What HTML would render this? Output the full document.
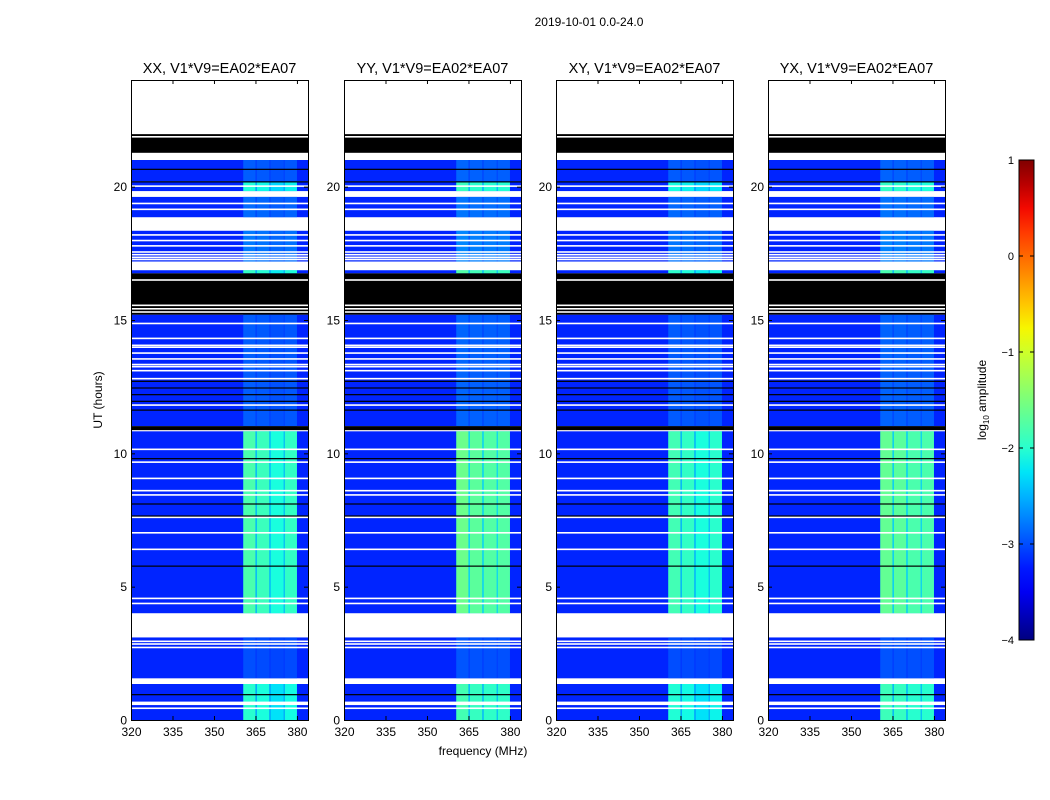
<!DOCTYPE html>
<html><head><meta charset="utf-8"><style>
body{margin:0;background:#fff;width:1050px;height:800px;overflow:hidden;font-family:"Liberation Sans",sans-serif}
svg{position:absolute;left:0;top:0}
</style></head><body>
<svg id="fig" width="1050" height="800" font-family="Liberation Sans, sans-serif"></svg>
<script>
// ---- data (hours / MHz / log10 amplitude) ----
const panelTitles=["XX, V1*V9=EA02*EA07","YY, V1*V9=EA02*EA07","XY, V1*V9=EA02*EA07","YX, V1*V9=EA02*EA07"];
const panelLefts=[131,344,556,768];
const freqTicks=[320,335,350,365,380];
const timeTicks=[0,5,10,15,20];
const cbTicks=[1,0,-1,-2,-3,-4];
const bandEdges=[[360.6,365.0],[365.5,370.0],[370.5,375.2],[375.6,380.0]];
const bandPeak=[[-1.8,-1.9,-2.1,-1.95],[-1.6,-1.7,-1.75,-1.75],[-1.85,-1.95,-2.1,-2.0],[-1.65,-1.7,-1.8,-1.8]];
const backgroundLevel=-3.2;
const activity=[[0,1.35,0.85],[1.56,3.1,0.15],[4.0,10.83,1.0],[11.02,15.2,0.2],[16.75,16.87,0.9],[17.19,18.35,0.3],[18.85,19.62,0.25],[19.83,20.2,0.8],[20.2,21.0,0.2]];
const whiteBlocks=[[21.0,24],[19.62,19.83],[18.75,18.85],[18.35,18.5],[16.87,17.19],[10.83,10.87],[3.1,4.0],[1.35,1.56],[0.56,0.69]];
const blackBlocks=[[21.27,21.97],[15.2,16.75],[10.87,11.02]];
const whiteLines=[21.87,21.2,20.02,19.37,19.15,18.65,18.54,18.19,17.98,17.78,17.55,17.45,17.35,17.27,16.5,15.55,15.42,15.3,14.87,14.31,14.05,13.98,13.76,13.54,13.33,13.25,13.1,12.8,11.81,10.15,9.67,9.06,8.6,8.44,7.6,7.02,6.4,4.56,4.37,2.95,2.85,2.72,0.44];
const blackLines=[20.65,20.18,12.7,12.45,12.2,11.95,11.62,9.8,8.1,7.65,5.77,0.95];

const NS="http://www.w3.org/2000/svg";
const fig=document.getElementById('fig');
function el(tag,attrs,parent){const e=document.createElementNS(NS,tag);for(const k in attrs)e.setAttribute(k,attrs[k]);(parent||fig).appendChild(e);return e;}
function interp(pts,t){for(let i=1;i<pts.length;i++){if(t<=pts[i][0]){const a=pts[i-1],b=pts[i];return a[1]+(b[1]-a[1])*(t-a[0])/(b[0]-a[0]);}}return pts[pts.length-1][1];}
function jet(v){const t=Math.max(0,Math.min(1,(v+4)/5));
 const r=interp([[0,0],[0.35,0],[0.66,1],[0.89,1],[1,0.5]],t);
 const g=interp([[0,0],[0.125,0],[0.375,1],[0.64,1],[0.91,0],[1,0]],t);
 const b=interp([[0,0.5],[0.11,1],[0.34,1],[0.65,0],[1,0]],t);
 return `rgb(${Math.round(r*255)},${Math.round(g*255)},${Math.round(b*255)})`;}
const Y0=720,Y1=80,W=177;
function yOf(h){return Y0-h*(Y0-Y1)/24;}
function xOf(left,f){return left+(f-320)*W/64;}

el('text',{x:589,y:26,'text-anchor':'middle','font-size':12,}).textContent="2019-10-01 0.0-24.0";

panelLefts.forEach((L,p)=>{
 const g=el('g',{});
 
 
 activity.forEach(([h0,h1,a])=>{
  const top=yOf(h1),hh=yOf(h0)-yOf(h1);
  const r=el('rect',{x:L,y:top,width:W,height:hh,fill:jet(backgroundLevel)},g);
  
  
  // whole band span at reduced (gap) level
  const f0=bandEdges[0][0],f1=bandEdges[bandEdges.length-1][1];
  const avg=bandPeak[p].reduce((s,v)=>s+v,0)/bandPeak[p].length;
  const gv=backgroundLevel+a*0.55*(avg-backgroundLevel);
  const gr=el('rect',{x:xOf(L,f0),y:top,width:xOf(L,f1)-xOf(L,f0),height:hh,fill:jet(gv)},g);
  
  
  bandEdges.forEach(([b0,b1],b)=>{
   const v=backgroundLevel+a*(bandPeak[p][b]-backgroundLevel);
   const br=el('rect',{x:xOf(L,b0),y:top,width:xOf(L,b1)-xOf(L,b0),height:hh,fill:jet(v)},g);
   
   
  });
 });
 whiteBlocks.forEach(([h0,h1])=>{const r=el('rect',{x:L,y:yOf(h1),width:W,height:yOf(h0)-yOf(h1),fill:'#fff'},g);
  });
 blackBlocks.forEach(([h0,h1])=>{const r=el('rect',{x:L,y:yOf(h1),width:W,height:yOf(h0)-yOf(h1),fill:'#000'},g);
  });
 whiteLines.forEach(h=>{const r=el('rect',{x:L,y:yOf(h)-0.8,width:W,height:1.6,fill:'#fff'},g);
  });
 blackLines.forEach(h=>{const r=el('rect',{x:L,y:yOf(h)-0.6,width:W,height:1.2,fill:'#000'},g);
  });
 const fr=el('rect',{x:L+0.5,y:Y1+0.5,width:W,height:Y0-Y1,fill:'none',stroke:'#000','stroke-width':1},g);
 
 freqTicks.forEach(f=>{const x=xOf(L,f)+0.5;
  el('line',{x1:x,x2:x,y1:Y0,y2:Y0-4,stroke:'#000'},g);el('line',{x1:x,x2:x,y1:Y1,y2:Y1+4,stroke:'#000'},g);
  const t=el('text',{x:x,y:Y0+16,'text-anchor':'middle','font-size':12},g);t.textContent=f;
  });
 timeTicks.forEach(h=>{const y=yOf(h)+0.5;
  el('line',{x1:L,x2:L+4,y1:y,y2:y,stroke:'#000'},g);el('line',{x1:L+W,x2:L+W-4,y1:y,y2:y,stroke:'#000'},g);
  const t=el('text',{x:L-4,y:y+4,'text-anchor':'end','font-size':12},g);t.textContent=h;
  });
 const tt=el('text',{x:L+W/2,y:73,'text-anchor':'middle','font-size':14.5},g);tt.textContent=panelTitles[p];
 
});
const xl=el('text',{x:483,y:755,'text-anchor':'middle','font-size':12});xl.textContent="frequency (MHz)";

const yl=el('text',{x:0,y:0,'text-anchor':'middle','font-size':12,transform:'translate(102,400) rotate(-90)'});yl.textContent="UT (hours)";

const CX=1019,CW=15,CT=160,CB=640;
const defs=el('defs',{});const lg=el('linearGradient',{id:'jetg',x1:0,y1:1,x2:0,y2:0},defs);
for(let i=0;i<=20;i++){el('stop',{offset:i/20,'stop-color':jet(-4+5*i/20)},lg);}
const cb=el('rect',{x:CX,y:CT,width:CW,height:CB-CT,fill:'url(#jetg)',stroke:'#000'});

cbTicks.forEach(v=>{const y=CB-(v+4)/5*(CB-CT);
 el('line',{x1:CX,x2:CX+4,y1:y,y2:y,stroke:'#000'});el('line',{x1:CX+CW,x2:CX+CW-4,y1:y,y2:y,stroke:'#000'});
 const t=el('text',{x:CX-5,y:y+4,'text-anchor':'end','font-size':11});t.textContent=(v<0?'\u2212'+(-v):v);
 });
const cl=el('text',{x:0,y:0,'text-anchor':'middle','font-size':12,transform:'translate(986,400) rotate(-90)'});
cl.innerHTML='log<tspan font-size="8" dy="3">10</tspan><tspan dy="-3"> amplitude</tspan>';

</script>
</body></html>
